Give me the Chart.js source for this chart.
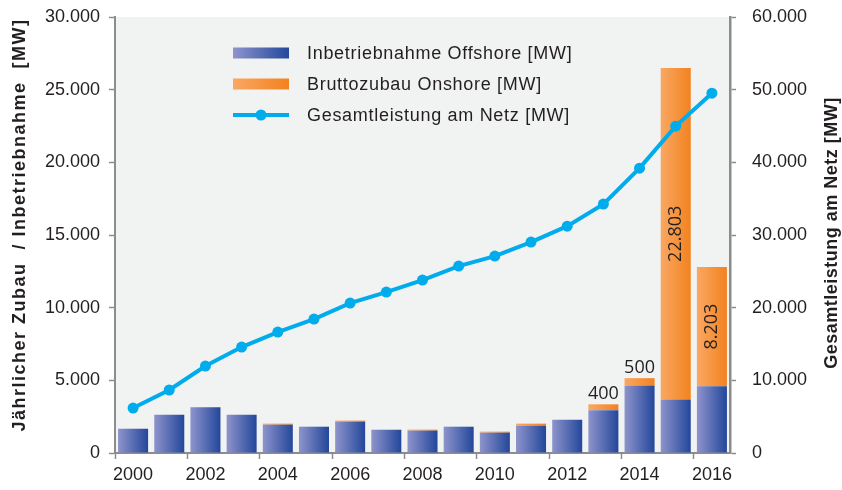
<!DOCTYPE html>
<html>
<head>
<meta charset="utf-8">
<script src="https://cdn.jsdelivr.net/npm/chart.js@4"></script>
<style>
  html, body { margin: 0; padding: 0; background: #fff; }
</style>
</head>
<body>
<canvas id="chart" width="842" height="490"></canvas>
<script>
// values
const years = ['2000', '2001', '2002', '2003', '2004', '2005', '2006', '2007', '2008',
  '2009', '2010', '2011', '2012', '2013', '2014', '2015', '2016']
const offshore = [1670, 2640, 3150, 2640, 1950, 1810, 2160, 1600, 1540, 1810, 1400, 1880, 2290, 2950, 4650, 3680, 4600]
const onshore = [0, 0, 0, 0, 70, 0, 70, 0, 70, 0, 70, 140, 0, 400, 500, 22803, 8203]
const total = [6190, 8670, 11970, 14580, 16640, 18430, 20630, 22150, 23800, 25720, 27100, 29020, 31220, 34250, 39200, 44980, 49520]

const seriesNames = ['Inbetriebnahme Offshore [MW]', 'Bruttozubau Onshore [MW]', 'Gesamtleistung am Netz [MW]']
const leftTitle = 'Jährlicher Zubau  / Inbetriebnahme  [MW]'
const rightTitle = 'Gesamtleistung am Netz [MW]'

const textColor = '#231f20'
const axisColor = '#8c8c8c'
const family = '"Liberation Sans", Arial, sans-serif'
const blueStops = ['#8e94cc', '#23479b']
const orangeStops = ['#f9a863', '#f2821f']
const lineColor = '#00acec'
const barPct = 0.83

const fmt = v => String(v).replace(/\B(?=(\d{3})+(?!\d))/g, '.')

// horizontal gradient across every single bar
function barGradient(stops) {
  return (c) => {
    const xs = c.chart.scales.x
    if (!xs || c.dataIndex === undefined) return stops[1]
    const cx = xs.getPixelForValue(c.dataIndex)
    const half = xs.width / years.length * barPct / 2
    if (!isFinite(cx) || !isFinite(half) || half <= 0) return stops[1]
    const g = c.chart.ctx.createLinearGradient(cx - half, 0, cx + half, 0)
    g.addColorStop(0, stops[0])
    g.addColorStop(1, stops[1])
    return g
  }
}

// fixed box for a vertical axis, so the plot area sits where it should
const fixY = w => s => {
  s.width = w
  s.paddingTop = 0
  s.paddingBottom = 0
}

const plotBackground = {
  id: 'plotBackground',
  beforeDraw(chart) {
    const { ctx, chartArea: a } = chart
    ctx.save()
    ctx.fillStyle = '#f1f2f2'
    ctx.fillRect(a.left, a.top, a.right - a.left, a.bottom - a.top)
    ctx.restore()
  }
}

// numbers on the onshore segments
const valueLabels = {
  id: 'valueLabels',
  afterDatasetsDraw(chart) {
    const ctx = chart.ctx
    const meta = chart.getDatasetMeta(1)
    ctx.save()
    ctx.fillStyle = textColor
    ctx.font = '18px "Open Sans", sans-serif'
    meta.data.forEach((bar, i) => {
      const v = onshore[i]
      if (v < 300) return
      const h = bar.base - bar.y
      ctx.save()
      if (h > 80) {
        ctx.translate(bar.x, (bar.y + bar.base) / 2)
        ctx.rotate(-Math.PI / 2)
        ctx.textAlign = 'center'
        ctx.textBaseline = 'middle'
        ctx.fillText(fmt(v), 0, 0)
      } else {
        ctx.textAlign = 'center'
        ctx.textBaseline = 'bottom'
        ctx.fillText(fmt(v), bar.x, bar.y - 1)
      }
      ctx.restore()
    })
    ctx.restore()
  }
}

// legend inside the plot area
const insideLegend = {
  id: 'insideLegend',
  afterDatasetsDraw(chart) {
    const { ctx, chartArea: a } = chart
    const x0 = a.left + 118
    const y0 = a.top + 36
    const row = 31
    const w = 56
    ctx.save()
    chart.data.datasets.forEach((ds, i) => {
      const y = y0 + i * row
      if (ds.type === 'line') {
        ctx.strokeStyle = lineColor
        ctx.lineWidth = 4
        ctx.beginPath()
        ctx.moveTo(x0, y)
        ctx.lineTo(x0 + w, y)
        ctx.stroke()
        ctx.fillStyle = lineColor
        ctx.beginPath()
        ctx.arc(x0 + w / 2, y, 5.5, 0, Math.PI * 2)
        ctx.fill()
      } else {
        const stops = i === 0 ? blueStops : orangeStops
        const g = ctx.createLinearGradient(x0, 0, x0 + w, 0)
        g.addColorStop(0, stops[0])
        g.addColorStop(1, stops[1])
        ctx.fillStyle = g
        ctx.fillRect(x0, y - 5.5, w, 11)
      }
      ctx.fillStyle = textColor
      ctx.font = '18px ' + family
      ctx.letterSpacing = '0.7px'
      ctx.textAlign = 'left'
      ctx.textBaseline = 'middle'
      ctx.fillText(ds.label, x0 + w + 18, y + 1)
      ctx.letterSpacing = '0px'
    })
    ctx.restore()
  }
}

// both axis titles read bottom to top
const axisTitles = {
  id: 'axisTitles',
  afterDraw(chart) {
    const { ctx, chartArea: a } = chart
    const mid = (a.top + a.bottom) / 2
    const put = (text, x, y, spacing) => {
      ctx.save()
      ctx.translate(x, y)
      ctx.rotate(-Math.PI / 2)
      ctx.fillStyle = textColor
      ctx.font = 'bold 18px ' + family
      ctx.letterSpacing = spacing
      ctx.textAlign = 'center'
      ctx.textBaseline = 'middle'
      ctx.fillText(text, 0, 0)
      ctx.restore()
    }
    put(leftTitle, 20, mid - 10, '1.5px')
    put(rightTitle, chart.width - 10, mid - 2, '0.5px')
  }
}

const tickFont = { family: family, size: 18 }

new Chart(document.getElementById('chart'), {
  type: 'bar',
  data: {
    labels: years,
    datasets: [
      {
        label: seriesNames[0],
        data: offshore,
        backgroundColor: barGradient(blueStops),
        barPercentage: barPct,
        categoryPercentage: 1,
        order: 1
      },
      {
        label: seriesNames[1],
        data: onshore,
        backgroundColor: barGradient(orangeStops),
        barPercentage: barPct,
        categoryPercentage: 1,
        order: 1
      },
      {
        type: 'line',
        label: seriesNames[2],
        data: total,
        yAxisID: 'y1',
        borderColor: lineColor,
        backgroundColor: lineColor,
        borderWidth: 4,
        pointRadius: 5.5,
        pointBorderWidth: 0,
        tension: 0,
        order: 0
      }
    ]
  },
  options: {
    responsive: false,
    animation: false,
    layout: { padding: { top: 17, left: 0, right: 0, bottom: 0 } },
    plugins: {
      legend: { display: false },
      tooltip: { enabled: false }
    },
    scales: {
      x: {
        stacked: true,
        afterFit: s => { s.height = 37 },
        border: { color: axisColor, width: 2 },
        grid: {
          offset: true,
          drawOnChartArea: false,
          tickLength: 6,
          tickWidth: 1.5,
          tickColor: c => (c.index % 2 === 0 ? axisColor : 'rgba(0,0,0,0)')
        },
        ticks: {
          autoSkip: false,
          maxRotation: 0,
          padding: 5,
          color: textColor,
          font: tickFont,
          callback: (v, i) => (i % 2 === 0 ? years[i] : '')
        }
      },
      y: {
        stacked: true,
        min: 0,
        max: 30000,
        afterFit: fixY(115),
        border: { color: axisColor, width: 2 },
        grid: { drawOnChartArea: false, tickLength: 6, tickWidth: 1.5, tickColor: axisColor },
        ticks: {
          stepSize: 5000,
          padding: 9,
          color: textColor,
          font: tickFont,
          callback: v => fmt(v)
        }
      },
      y1: {
        position: 'right',
        min: 0,
        max: 60000,
        afterFit: fixY(112),
        border: { color: axisColor, width: 2.5 },
        grid: { drawOnChartArea: false, tickLength: 6, tickWidth: 1.5, tickColor: axisColor },
        ticks: {
          stepSize: 10000,
          padding: 16,
          color: textColor,
          font: tickFont,
          callback: v => fmt(v)
        }
      }
    }
  },
  plugins: [plotBackground, valueLabels, insideLegend, axisTitles]
})
</script>
</body>
</html>
